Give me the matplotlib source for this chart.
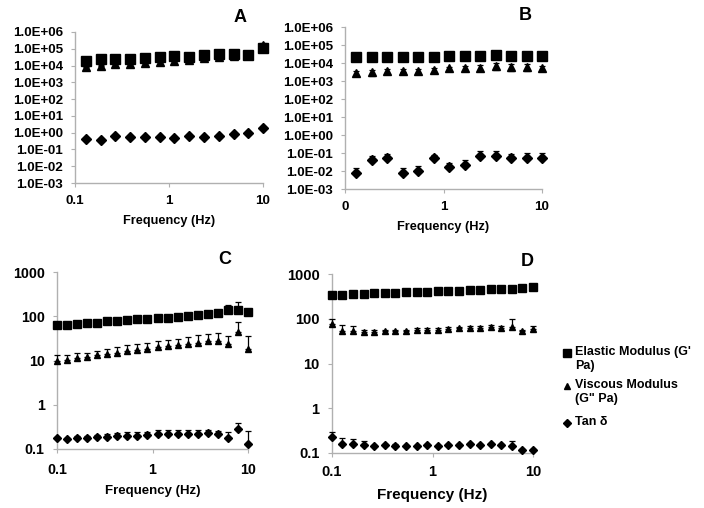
import matplotlib
matplotlib.use("Agg")
import matplotlib.pyplot as plt
from matplotlib.ticker import FixedLocator, FuncFormatter, NullLocator
from matplotlib.lines import Line2D

plt.rcParams['font.family'] = ['Liberation Sans', 'DejaVu Sans']
plt.rcParams['font.weight'] = 'bold'

# ---------------- data ----------------
freq_ab = [0.13, 0.187, 0.268, 0.385, 0.553, 0.795, 1.14, 1.64, 2.36, 3.39, 4.87, 6.99, 10.0]

A_elastic = [2.0e4, 2.6e4, 2.3e4, 2.5e4, 2.8e4, 3.1e4, 3.6e4, 3.3e4, 4.3e4, 4.8e4, 4.8e4, 4.5e4, 1.1e5]
A_elastic_err = [4e3, 5e3, 4e3, 5e3, 5e3, 6e3, 7e3, 6e3, 8e3, 9e3, 9e3, 8e3, 3e4]
A_viscous = [8.0e3, 9.0e3, 1.3e4, 1.3e4, 1.5e4, 1.7e4, 2.0e4, 2.2e4, 2.8e4, 3.3e4, 3.8e4, 4.0e4, 1.6e5]
A_viscous_err = [2e3, 2e3, 3e3, 3e3, 3e3, 4e3, 4e3, 5e3, 6e3, 7e3, 8e3, 8e3, 6e4]
A_tan = [0.42, 0.36, 0.63, 0.55, 0.55, 0.55, 0.50, 0.60, 0.55, 0.65, 0.85, 1.0, 1.8]
A_tan_err = [0.05, 0.05, 0.08, 0.06, 0.06, 0.06, 0.06, 0.07, 0.06, 0.08, 0.1, 0.12, 0.3]

B_elastic = [2.1e4, 2.1e4, 2.1e4, 2.05e4, 2.05e4, 2.1e4, 2.4e4, 2.4e4, 2.4e4, 2.8e4, 2.5e4, 2.5e4, 2.5e4]
B_elastic_err = [1e3, 1e3, 1e3, 1e3, 1e3, 1e3, 1.5e3, 1.5e3, 1.5e3, 3e3, 2e3, 2e3, 2e3]
B_viscous = [2.8e3, 3.0e3, 3.5e3, 3.8e3, 3.8e3, 4.0e3, 5.0e3, 5.0e3, 5.5e3, 7.0e3, 6.0e3, 6.0e3, 5.5e3]
B_viscous_err = [0.8e3, 1.2e3, 1.2e3, 0.8e3, 1.0e3, 1.2e3, 1.2e3, 1.5e3, 2.0e3, 3.0e3, 2.5e3, 2.5e3, 1.5e3]
B_tan = [0.0075, 0.040, 0.055, 0.008, 0.010, 0.055, 0.017, 0.021, 0.068, 0.068, 0.052, 0.052, 0.052]
B_tan_err = [0.008, 0.03, 0.035, 0.007, 0.009, 0.02, 0.012, 0.02, 0.06, 0.06, 0.04, 0.045, 0.045]

freq_cd = [0.1, 0.127, 0.162, 0.207, 0.264, 0.336, 0.428, 0.546, 0.695, 0.886,
           1.129, 1.438, 1.833, 2.336, 2.976, 3.793, 4.833, 6.158, 7.848, 10.0]

C_elastic = [62, 65, 68, 72, 72, 77, 80, 81, 85, 88, 90, 93, 97, 100, 106, 110, 118, 140, 140, 125]
C_elastic_err = [3, 3, 3, 3, 3, 4, 4, 4, 4, 5, 5, 6, 6, 8, 10, 15, 18, 40, 65, 10]
C_viscous = [10, 10.5, 11.5, 12, 13, 14, 15, 16, 17, 18, 20, 21, 22, 24, 25, 27, 28, 24, 45, 18]
C_viscous_err = [3, 3, 3, 3, 3.5, 4, 5, 6, 6, 7, 7, 8, 9, 10, 12, 13, 14, 12, 30, 18]
C_tan = [0.18, 0.17, 0.18, 0.18, 0.19, 0.19, 0.2, 0.2, 0.2, 0.21, 0.22, 0.22, 0.22, 0.22, 0.22, 0.23, 0.22, 0.18, 0.28, 0.13]
C_tan_err = [0.01, 0.01, 0.015, 0.02, 0.02, 0.03, 0.03, 0.04, 0.04, 0.03, 0.05, 0.05, 0.05, 0.05, 0.05, 0.04, 0.04, 0.06, 0.1, 0.12]

D_elastic = [340, 340, 355, 360, 370, 375, 375, 390, 395, 395, 410, 415, 420, 440, 440, 455, 460, 460, 480, 510]
D_elastic_err = [10, 10, 10, 10, 10, 10, 10, 10, 10, 10, 12, 12, 12, 12, 12, 12, 12, 15, 15, 15]
D_viscous = [75, 54, 54, 50, 50, 52, 52, 52, 55, 56, 56, 58, 61, 63, 63, 66, 62, 66, 52, 58]
D_viscous_err = [22, 18, 15, 5, 5, 5, 5, 5, 6, 6, 6, 6, 6, 6, 6, 6, 6, 35, 5, 10]
D_tan = [0.223, 0.161, 0.161, 0.153, 0.14, 0.153, 0.145, 0.14, 0.14, 0.153, 0.14, 0.153, 0.153, 0.161, 0.153, 0.161, 0.153, 0.14, 0.115, 0.115]
D_tan_err = [0.07, 0.055, 0.04, 0.035, 0.01, 0.01, 0.01, 0.005, 0.005, 0.005, 0.005, 0.005, 0.005, 0.005, 0.005, 0.005, 0.005, 0.05, 0.005, 0.01]

labels = ["Elastic Modulus (G'\nPa)", 'Viscous Modulus\n(G" Pa)', "Tan \u03b4"]
panel_letters = ["A", "B", "C", "D"]
ytick_ab = [1e-3, 1e-2, 1e-1, 1e0, 1e1, 1e2, 1e3, 1e4, 1e5, 1e6]
ytick_cd = [0.1, 1, 10, 100, 1000]
xtick = [0.1, 1, 10]

# ---------------- figure ----------------
fig = plt.figure(figsize=(7.04, 5.08), dpi=100)

rects = {
    "A": [75 / 704, 1 - 183 / 508, 188 / 704, 151 / 508],
    "B": [345 / 704, 1 - 189 / 508, 197 / 704, 162 / 508],
    "C": [57 / 704, 1 - 449 / 508, 191 / 704, 177 / 508],
    "D": [332 / 704, 1 - 453 / 508, 201 / 704, 179 / 508],
}

spine_color = "#b0b0b0"


def style(ax, ylim, yticks, yfmt, xfmt, tick_fs, xlabel_fs, ypad, xpad):
    ax.set_xscale("log")
    ax.set_yscale("log")
    ax.set_xlim(0.1, 10)
    ax.set_ylim(*ylim)
    for s in ["top", "right"]:
        ax.spines[s].set_visible(False)
    for s in ["left", "bottom"]:
        ax.spines[s].set_color(spine_color)
        ax.spines[s].set_linewidth(1.0)
    ax.yaxis.set_major_locator(FixedLocator(yticks))
    ax.yaxis.set_minor_locator(NullLocator())
    ax.xaxis.set_major_locator(FixedLocator(xtick))
    ax.xaxis.set_minor_locator(NullLocator())
    ax.yaxis.set_major_formatter(FuncFormatter(yfmt))
    ax.xaxis.set_major_formatter(FuncFormatter(xfmt))
    ax.tick_params(axis="both", which="major", length=3, width=0.8, color=spine_color,
                   labelsize=tick_fs, direction="out")
    ax.tick_params(axis="x", pad=xpad)
    ax.tick_params(axis="y", pad=ypad)
    for lab in ax.get_xticklabels() + ax.get_yticklabels():
        lab.set_fontweight("bold")
    ax.set_xlabel("Frequency (Hz)", fontsize=xlabel_fs, fontweight="bold", labelpad=6)


def plot_series(ax, x, y, err, marker, ms, lower=False):
    yerr = [err, err] if lower else [[0] * len(err), err]
    ax.errorbar(x, y, yerr=yerr, fmt=marker, color="black", ms=ms, ecolor="black",
                elinewidth=0.9, capsize=2.5, capthick=0.9, clip_on=False, zorder=3)


def fmt_e(v, pos):
    return f"{v:.1E}"


def fmt_plain(v, pos):
    return f"{v:g}"


def fmt_b(v, pos):
    return "0" if v < 0.5 else f"{v:g}"


axA = fig.add_axes(rects["A"])
plot_series(axA, freq_ab, A_elastic, A_elastic_err, "s", 6.5)
plot_series(axA, freq_ab, A_viscous, A_viscous_err, "^", 6)
plot_series(axA, freq_ab, A_tan, A_tan_err, "D", 4.8)
style(axA, (1e-3, 1e6), ytick_ab, fmt_e, fmt_plain, 9.6, 9.2, 5.5, 5.5)

axB = fig.add_axes(rects["B"])
plot_series(axB, freq_ab, B_elastic, B_elastic_err, "s", 6.5)
plot_series(axB, freq_ab, B_viscous, B_viscous_err, "^", 6, lower=True)
plot_series(axB, freq_ab, B_tan, B_tan_err, "D", 4.8)
style(axB, (1e-3, 1e6), ytick_ab, fmt_e, fmt_b, 9.6, 9.2, 5.5, 5.5)

axC = fig.add_axes(rects["C"])
plot_series(axC, freq_cd, C_elastic, C_elastic_err, "s", 5.5)
plot_series(axC, freq_cd, C_viscous, C_viscous_err, "^", 5)
plot_series(axC, freq_cd, C_tan, C_tan_err, "D", 4)
style(axC, (0.1, 1000), ytick_cd, fmt_plain, fmt_plain, 10.3, 9.5, 6, 7)

axD = fig.add_axes(rects["D"])
plot_series(axD, freq_cd, D_elastic, D_elastic_err, "s", 5.5)
plot_series(axD, freq_cd, D_viscous, D_viscous_err, "^", 5)
plot_series(axD, freq_cd, D_tan, D_tan_err, "D", 4)
style(axD, (0.1, 1000), ytick_cd, fmt_plain, fmt_plain, 10.5, 11, 6, 6)

# panel letters
letter_pos = {"A": (240, 18), "B": (525, 15), "C": (225, 259), "D": (527, 262)}
for k, (px, py) in letter_pos.items():
    fig.text(px / 704, 1 - py / 508, k, fontsize=13, fontweight="bold",
             ha="center", va="center")

# legend (manual)
leg_items = [("s", 353, 5.5), ("^", 386, 5), ("D", 423, 4)]
for (mk, py, ms), lab in zip(leg_items, labels):
    fig.add_artist(Line2D([567 / 704], [1 - py / 508], marker=mk, color="black",
                          ms=ms, linestyle="none", transform=fig.transFigure))
    fig.text(575 / 704, 1 - (py - 7) / 508, lab, fontsize=9, fontweight="bold",
             ha="left", va="top", linespacing=1.25)

fig.savefig("out.png", dpi=100)
